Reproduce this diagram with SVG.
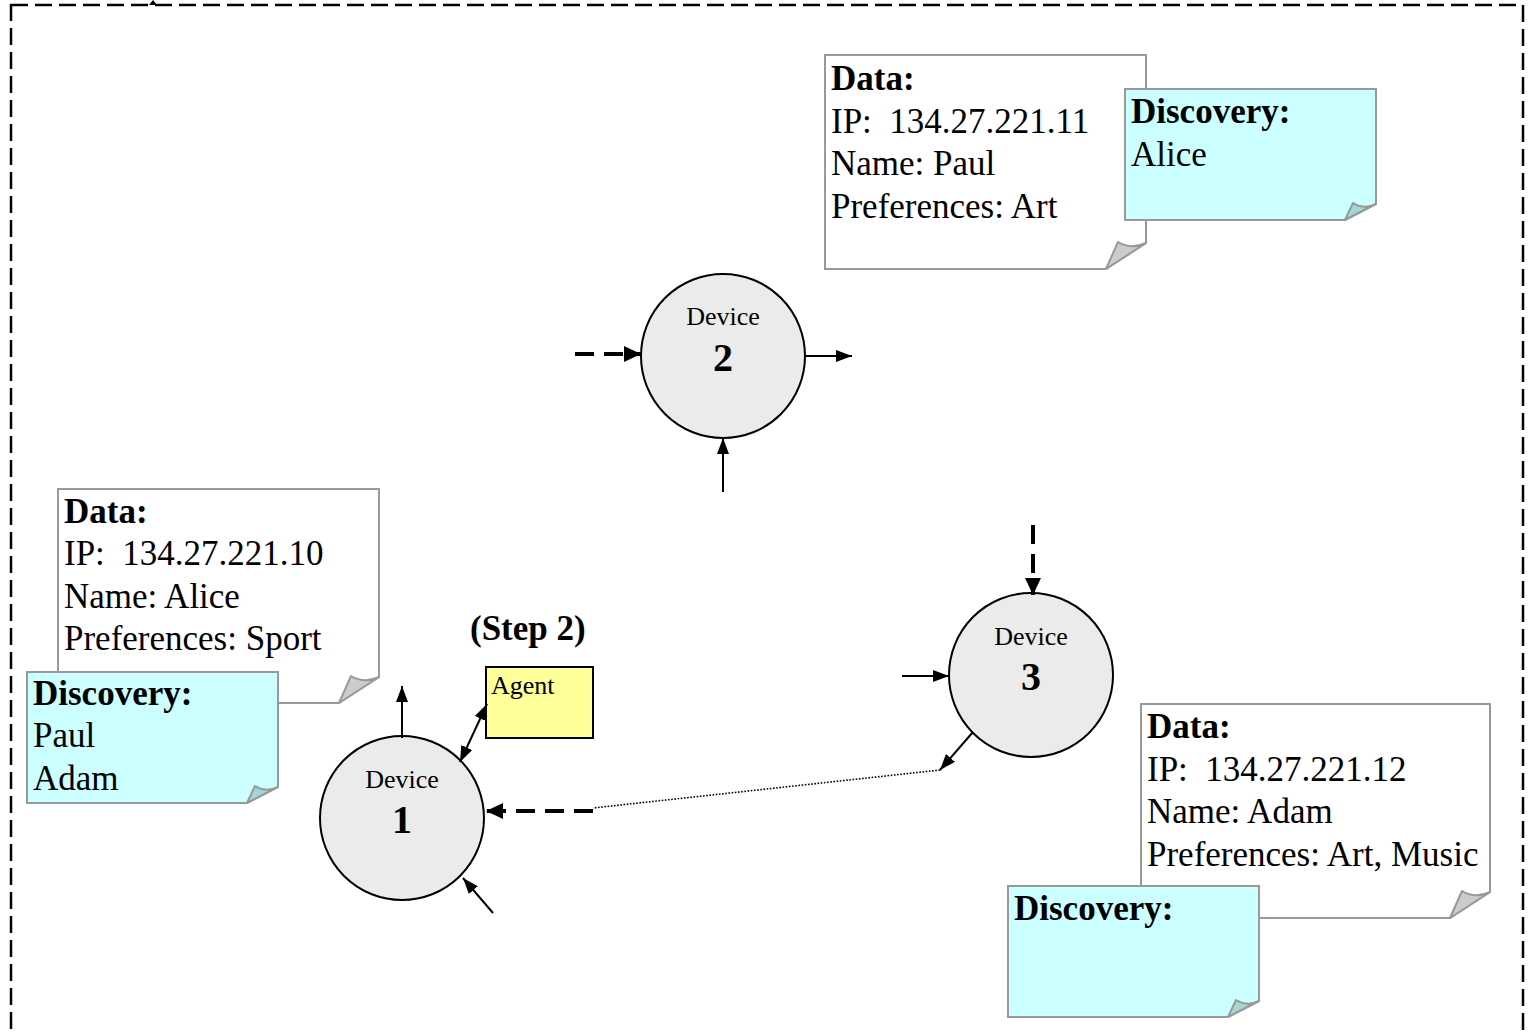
<svg xmlns="http://www.w3.org/2000/svg" width="1531" height="1032" viewBox="0 0 1531 1032">
  <style>
    .frame { fill: none; stroke: #000; stroke-width: 2.5; stroke-dasharray: 17 7; }
    .dev { fill: #EBEBEB; stroke: #000; stroke-width: 2; }
    .devlbl { font-family: "Liberation Serif", "Times New Roman", serif; font-size: 26px; text-anchor: middle; fill: #000; }
    .devnum { font-family: "Liberation Serif", "Times New Roman", serif; font-size: 40px; font-weight: bold; text-anchor: middle; fill: #000; }
    .data { fill: #FFFFFF; stroke: #999999; stroke-width: 2; }
    .disc { fill: #CCFFFF; stroke: #999999; stroke-width: 2; }
    .curl-data { fill: #CCCCCC; stroke: #999999; stroke-width: 2; stroke-linejoin: round; }
    .curl-disc { fill: #A3D6D6; stroke: #999999; stroke-width: 2; stroke-linejoin: round; }
    .note { font-family: "Liberation Serif", "Times New Roman", serif; font-size: 35px; fill: #000; white-space: pre; }
    .hdr { font-weight: bold; }
    .agent { fill: #FFFF99; stroke: #000; stroke-width: 2; }
    .thin { fill: none; stroke: #000; stroke-width: 2; marker-end: url(#ah); }
    .thick { fill: none; stroke: #000; stroke-width: 4; stroke-dasharray: 19 10; marker-end: url(#ahb); }
    .dot { fill: none; stroke: #000; stroke-width: 1.6; stroke-dasharray: 1.6 1.6; }
  </style>
  <defs>
    <marker id="ah" markerUnits="userSpaceOnUse" markerWidth="16" markerHeight="12" refX="16" refY="6" orient="auto-start-reverse">
      <path d="M0,0 L16,6 L0,12 Z" fill="#000"/>
    </marker>
    <marker id="ahb" markerUnits="userSpaceOnUse" markerWidth="17" markerHeight="16" refX="17" refY="8" orient="auto">
      <path d="M0,0 L17,8 L0,16 Z" fill="#000"/>
    </marker>
    <path id="dataShape" d="M0,0 H321 V188 L281,214 H0 Z"/>
    <path id="discShape" d="M0,0 H251 V115 L220,131 H0 Z"/>
  </defs>

  <rect width="1531" height="1032" fill="#FFFFFF"/>

  <!-- outer dashed boundary (runs past the bottom edge) -->
  <rect class="frame" x="11" y="5" width="1512" height="1100"/>
  <path d="M149,5 L153,0 L157,5 Z" fill="#000"/>

  <!-- information notes -->
  <g id="note-data-2" transform="translate(825,55)">
    <use href="#dataShape" class="data"/>
    <path class="curl-data" d="M321,188 Q306,195 293,187 L281,214 Z"/>
    <text class="note" x="6" y="35"><tspan class="hdr">Data:</tspan></text>
    <text class="note" x="6" y="78">IP:  134.27.221.11</text>
    <text class="note" x="6" y="120">Name: Paul</text>
    <text class="note" x="6" y="163">Preferences: Art</text>
  </g>
  <g id="note-disc-2" transform="translate(1125,89)">
    <use href="#discShape" class="disc"/>
    <path class="curl-disc" d="M251,115 Q239,121 228,114 L220,131 Z"/>
    <text class="note" x="6" y="34"><tspan class="hdr">Discovery:</tspan></text>
    <text class="note" x="6" y="77">Alice</text>
  </g>

  <g id="note-data-1" transform="translate(58,489)">
    <use href="#dataShape" class="data"/>
    <path class="curl-data" d="M321,188 Q306,195 293,187 L281,214 Z"/>
    <text class="note" x="6" y="34"><tspan class="hdr">Data:</tspan></text>
    <text class="note" x="6" y="76">IP:  134.27.221.10</text>
    <text class="note" x="6" y="119">Name: Alice</text>
    <text class="note" x="6" y="161">Preferences: Sport</text>
  </g>
  <g id="note-disc-1" transform="translate(27,672)">
    <use href="#discShape" class="disc"/>
    <path class="curl-disc" d="M251,115 Q239,121 228,114 L220,131 Z"/>
    <text class="note" x="6" y="33"><tspan class="hdr">Discovery:</tspan></text>
    <text class="note" x="6" y="75">Paul</text>
    <text class="note" x="6" y="118">Adam</text>
  </g>

  <g id="note-data-3" transform="translate(1141,704)">
    <path class="data" d="M0,0 H349 V188 L309,214 H0 Z"/>
    <path class="curl-data" d="M349,188 Q334,195 321,187 L309,214 Z"/>
    <text class="note" x="6" y="34"><tspan class="hdr">Data:</tspan></text>
    <text class="note" x="6" y="77">IP:  134.27.221.12</text>
    <text class="note" x="6" y="119">Name: Adam</text>
    <text class="note" x="6" y="162">Preferences: Art, Music</text>
  </g>
  <g id="note-disc-3" transform="translate(1008,886)">
    <use href="#discShape" class="disc"/>
    <path class="curl-disc" d="M251,115 Q239,121 228,114 L220,131 Z"/>
    <text class="note" x="6" y="34"><tspan class="hdr">Discovery:</tspan></text>
  </g>

  <!-- devices -->
  <g id="device-2">
    <circle class="dev" cx="723" cy="356" r="82"/>
    <text class="devlbl" x="723" y="325">Device</text>
    <text class="devnum" x="723" y="371">2</text>
  </g>
  <g id="device-1">
    <circle class="dev" cx="402" cy="818" r="82"/>
    <text class="devlbl" x="402" y="788">Device</text>
    <text class="devnum" x="402" y="833">1</text>
  </g>
  <g id="device-3">
    <circle class="dev" cx="1031" cy="675" r="82"/>
    <text class="devlbl" x="1031" y="645">Device</text>
    <text class="devnum" x="1031" y="690">3</text>
  </g>

  <!-- mobile agent -->
  <g id="agent">
    <text x="470" y="640" font-family="Liberation Serif, Times New Roman, serif" font-size="35" font-weight="bold">(Step 2)</text>
    <rect class="agent" x="486" y="667" width="107" height="71"/>
    <text x="491" y="694" font-family="Liberation Serif, Times New Roman, serif" font-size="26">Agent</text>
  </g>

  <!-- connectors -->
  <g id="connectors">
    <line class="thick" x1="575" y1="354" x2="641" y2="354"/>
    <line class="thin" x1="806" y1="356" x2="852" y2="356"/>
    <line class="thin" x1="723" y1="492" x2="723" y2="438"/>

    <line class="thin" x1="402" y1="738" x2="402" y2="686"/>
    <line class="thin" x1="460" y1="762" x2="487" y2="704" marker-start="url(#ah)"/>
    <line class="thin" x1="493" y1="913" x2="463" y2="878"/>
    <line class="thick" x1="593" y1="811" x2="486" y2="811"/>

    <line class="thick" x1="1033" y1="525" x2="1033" y2="595"/>
    <line class="thin" x1="902" y1="676" x2="949" y2="676"/>
    <line class="thin" x1="973" y1="732" x2="940" y2="770"/>
    <line class="dot" x1="940" y1="770" x2="593" y2="808"/>
  </g>
</svg>
